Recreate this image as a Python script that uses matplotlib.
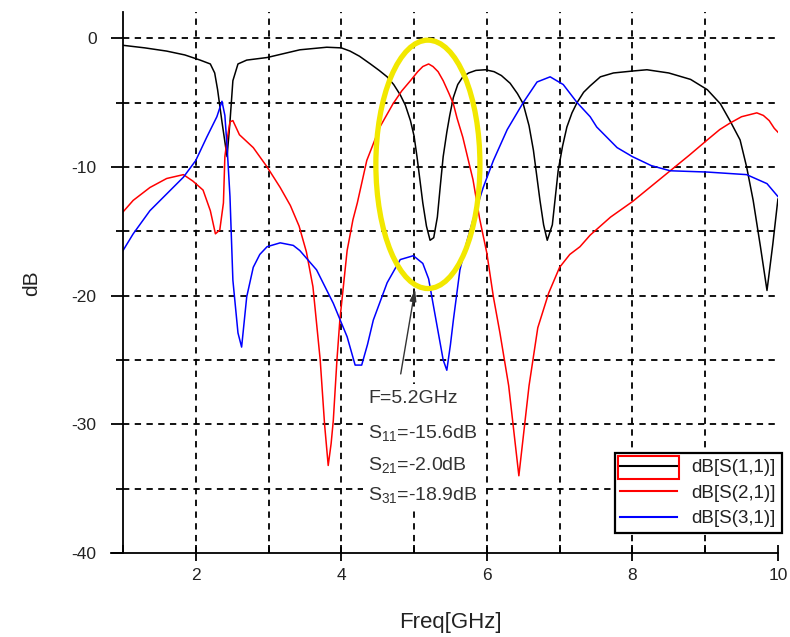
import numpy as np
import matplotlib
matplotlib.use('Agg')
import matplotlib.pyplot as plt
from matplotlib.patches import Ellipse, Rectangle
from matplotlib.transforms import IdentityTransform, Bbox

plt.rcParams['font.family'] = ['Liberation Sans', 'DejaVu Sans']
plt.rcParams['axes.unicode_minus'] = False
plt.rcParams['mathtext.default'] = 'regular'

# S11 (black)
f11 = [1.0, 1.3, 1.6, 1.85, 2.06, 2.2, 2.26, 2.3, 2.36, 2.43, 2.47, 2.51, 2.58, 2.7, 2.98,
       3.43, 3.8, 4.0, 4.12, 4.25, 4.4, 4.52, 4.63, 4.72, 4.81, 4.88, 4.95, 5.0, 5.04, 5.08,
       5.12, 5.17, 5.22, 5.27, 5.32, 5.36, 5.4, 5.45, 5.49, 5.54, 5.6, 5.67, 5.75, 5.85, 5.98,
       6.1, 6.2, 6.32, 6.42, 6.5, 6.58, 6.64, 6.73, 6.78, 6.83, 6.9, 6.98, 7.04, 7.1, 7.17,
       7.24, 7.33, 7.42, 7.56, 7.74, 8.0, 8.2, 8.5, 8.8, 9.03, 9.21, 9.34, 9.48, 9.57, 9.66,
       9.76, 9.85, 9.93, 10.0]
s11 = [-0.55, -0.75, -1.0, -1.3, -1.7, -2.0, -2.7, -4.0, -6.5, -9.2, -6.5, -3.3, -2.0, -1.7, -1.5,
       -0.9, -0.7, -0.75, -1.0, -1.4, -2.0, -2.5, -3.0, -3.6, -4.4, -5.2, -6.4, -7.6, -9.2, -11.0,
       -12.8, -14.6, -15.7, -15.5, -13.9, -11.5, -9.2, -7.3, -6.0, -4.6, -3.6, -3.0, -2.7, -2.5, -2.45,
       -2.6, -2.9, -3.5, -4.3, -5.1, -6.8, -8.7, -12.6, -14.5, -15.7, -14.5, -10.3, -8.4, -6.9, -5.8,
       -5.0, -4.2, -3.7, -3.0, -2.7, -2.55, -2.45, -2.7, -3.2, -4.0, -5.1, -6.4, -7.9, -10.0, -12.6,
       -16.2, -19.6, -16.0, -12.5]

# S21 (red)
f21 = [1.0, 1.14, 1.37, 1.6, 1.83, 1.96, 2.1, 2.2, 2.27, 2.33, 2.38, 2.4, 2.43, 2.47, 2.51,
       2.6, 2.79, 2.98, 3.16, 3.3, 3.42, 3.52, 3.61, 3.71, 3.77, 3.82, 3.86, 3.89, 3.94, 3.98,
       4.08, 4.16, 4.22, 4.35, 4.53, 4.71, 4.83, 4.95, 5.05, 5.12, 5.2, 5.26, 5.33, 5.4, 5.48,
       5.54, 5.59, 5.67, 5.81, 5.9, 6.0, 6.09, 6.18, 6.3, 6.38, 6.44, 6.5, 6.58, 6.7, 6.85,
       7.0, 7.14, 7.28, 7.42, 7.7, 8.0, 8.26, 8.52, 8.78, 9.03, 9.2, 9.34, 9.5, 9.71, 9.8,
       9.88, 9.95, 10.0]
s21 = [-13.5, -12.6, -11.6, -10.9, -10.6, -11.1, -11.8, -13.4, -15.2, -14.9, -12.8, -9.2, -7.9, -6.5, -6.4,
       -7.5, -8.5, -10.0, -11.6, -13.0, -14.6, -16.6, -19.3, -25.0, -30.0, -33.2, -31.5, -29.7, -25.0, -21.9,
       -16.5, -14.1, -12.8, -9.5, -6.9, -5.1, -4.1, -3.3, -2.6, -2.2, -2.0, -2.2, -2.6, -3.3, -4.3,
       -5.1, -6.2, -7.7, -11.0, -14.0, -16.7, -20.1, -22.9, -27.0, -31.0, -34.0, -31.0, -27.0, -22.5, -19.8,
       -17.8, -16.8, -16.2, -15.3, -13.9, -12.7, -11.5, -10.3, -9.1, -7.9, -7.1, -6.6, -6.1, -5.8, -6.0,
       -6.4, -7.0, -7.3]

# S31 (blue)
f31 = [1.0, 1.14, 1.37, 1.6, 1.83, 2.0, 2.15, 2.29, 2.36, 2.4, 2.43, 2.47, 2.51, 2.58, 2.63,
       2.7, 2.79, 2.88, 2.98, 3.16, 3.34, 3.43, 3.66, 3.89, 4.08, 4.19, 4.28, 4.36, 4.44, 4.63,
       4.81, 4.99, 5.12, 5.2, 5.26, 5.33, 5.4, 5.45, 5.5, 5.54, 5.63, 5.73, 5.81, 5.95, 6.09,
       6.28, 6.5, 6.69, 6.87, 7.05, 7.24, 7.42, 7.51, 7.79, 8.0, 8.26, 8.52, 9.03, 9.57, 9.85,
       10.0]
s31 = [-16.5, -15.2, -13.4, -12.1, -10.8, -9.5, -7.7, -6.1, -4.9, -6.0, -8.4, -12.3, -18.8, -22.9, -24.0,
       -20.1, -17.8, -16.8, -16.2, -15.9, -16.1, -16.5, -18.0, -20.6, -23.2, -25.4, -25.4, -23.8, -21.9, -19.0,
       -17.2, -16.9, -17.5, -18.7, -20.6, -22.8, -25.0, -25.8, -23.8, -21.9, -18.0, -15.7, -14.1, -11.6, -9.5,
       -7.1, -5.0, -3.4, -3.0, -3.6, -5.0, -6.1, -6.9, -8.5, -9.2, -9.9, -10.3, -10.4, -10.6, -11.3,
       -12.3]

labels = ['dB[S(1,1)]', 'dB[S(2,1)]', 'dB[S(3,1)]']
colors = ['black', '#ff0000', '#0000ff']

note_lines = ['F=5.2GHz', 'S$_{11}$=-15.6dB', 'S$_{21}$=-2.0dB', 'S$_{31}$=-18.9dB']
note_y = [-28.0, -30.7, -33.2, -35.5]

fig = plt.figure(figsize=(7.9, 6.37), dpi=100)
ax = fig.add_axes([0.1557, 0.1319, 0.829, 0.8485])

for fx, sy, lab, c in zip([f11, f21, f31], [s11, s21, s31], labels, colors):
    ax.plot(fx, sy, color=c, lw=1.1, label=lab)

ax.set_xlim(1, 10)
ax.set_ylim(-40, 2)

# grid
for gx in range(2, 10):
    ax.axvline(gx, color='black', lw=1.3, dashes=(3.5, 3), zorder=0)
for gy in range(-35, 1, 5):
    ax.axhline(gy, color='black', lw=1.3, dashes=(3.5, 3), zorder=0)

for s in ['top', 'right']:
    ax.spines[s].set_visible(False)
ax.spines['left'].set_linewidth(1.3)
ax.spines['bottom'].set_linewidth(1.3)
ax.spines['bottom'].set_bounds(0.84, 10)

ax.set_xticks([2, 4, 6, 8, 10])
ax.set_xticks([1, 3, 5, 7, 9], minor=True)
ax.set_yticks([0, -10, -20, -30, -40])
ax.set_yticks([-5, -15, -25, -35], minor=True)
ax.tick_params(axis='x', which='major', direction='inout', length=12, width=1.3,
               labelsize=12.5, pad=5, labelcolor='#222222')
ax.tick_params(axis='x', which='minor', direction='in', length=6, width=1.3)
ax.tick_params(axis='y', which='major', direction='out', length=9, width=1.3,
               labelsize=12.5, pad=10, labelcolor='#222222')
ax.tick_params(axis='y', which='minor', direction='out', length=5, width=1.3)

ax.set_xlabel('Freq[GHz]', fontsize=16, labelpad=21, color='#222222')
ax.set_ylabel('dB', fontsize=15, labelpad=22, color='#222222')

# highlight ellipse
ax.add_patch(Ellipse((5.19, -9.8), 1.43, 19.3, fill=False, edgecolor='#f2e800', lw=3.8, zorder=5))

# annotation
ax.annotate('', xy=(5.02, -19.3), xytext=(4.81, -26.3),
            arrowprops=dict(arrowstyle='-|>,head_length=0.7,head_width=0.2', color='#333333', lw=1.0))
notes = []
for t, yy in zip(note_lines, note_y):
    notes.append(ax.text(4.37, yy, t, fontsize=14, color='#333333', va='center', ha='left', zorder=4))

leg = ax.legend(loc='lower right', bbox_to_anchor=(1.006, 0.037), fontsize=13.5, frameon=True,
                fancybox=False, framealpha=1, edgecolor='black', handlelength=3.0,
                labelspacing=0.45, borderaxespad=0, borderpad=0.3, handletextpad=0.8)
leg.get_frame().set_linewidth(1.6)
for t in leg.get_texts():
    t.set_color('#222222')
for ln in leg.get_lines():
    ln.set_linewidth(1.5)

fig.canvas.draw()
r = fig.canvas.get_renderer()

# white background behind annotation text block
nb = Bbox.union([t.get_window_extent(r) for t in notes])
ax.add_patch(Rectangle((nb.x0 - 5, nb.y0 - 6), nb.width + 10, nb.height + 12,
                       facecolor='white', edgecolor='none', transform=IdentityTransform(), zorder=1))

# red selection box around first legend handle
bb = leg.get_lines()[0].get_window_extent(r)
hb = leg.get_texts()[0].get_window_extent(r)
rect = Rectangle((bb.x0 - 2, hb.y0 - 3), bb.width + 4, hb.height + 6,
                 fill=False, edgecolor='#ff0000', lw=1.5, transform=None)
fig.patches.append(rect)

fig.savefig('out.png', dpi=100)
